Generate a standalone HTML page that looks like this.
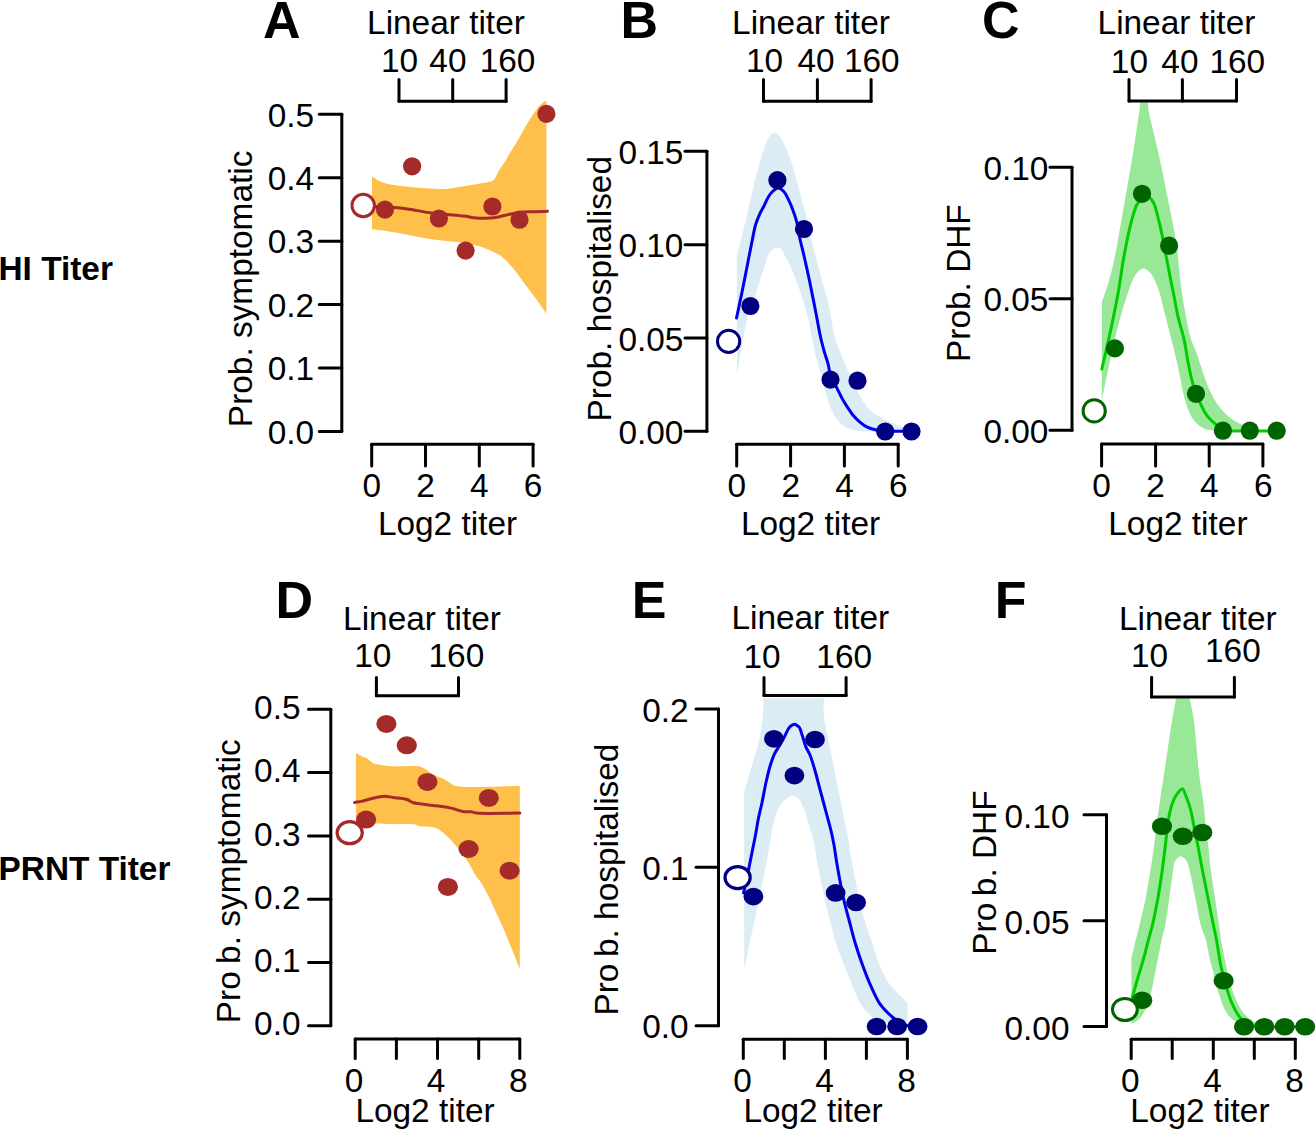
<!DOCTYPE html>
<html><head><meta charset="utf-8"><title>Figure</title>
<style>html,body{margin:0;padding:0;background:#fff;} svg{display:block;} text{font-family:"Liberation Sans",sans-serif;fill:#000;}</style>
</head><body>
<svg width="1316" height="1130" viewBox="0 0 1316 1130">
<rect width="1316" height="1130" fill="#fff"/>
<defs><clipPath id="clipC"><rect x="1080" y="102.5" width="236" height="400"/></clipPath><clipPath id="clipE"><rect x="720" y="698.5" width="220" height="400"/></clipPath><clipPath id="clipF"><rect x="1110" y="698.2" width="206" height="400"/></clipPath></defs>
<text x="-1.5" y="280" text-anchor="start" font-size="33.4" font-weight="bold" >HI Titer</text>
<text x="-1.5" y="879.5" text-anchor="start" font-size="33.4" font-weight="bold" >PRNT Titer</text>
<text x="263" y="37.8" text-anchor="start" font-size="52" font-weight="bold" >A</text>
<text x="620.5" y="37.8" text-anchor="start" font-size="52" font-weight="bold" >B</text>
<text x="982" y="37.8" text-anchor="start" font-size="52" font-weight="bold" >C</text>
<text x="275.5" y="618.3" text-anchor="start" font-size="52" font-weight="bold" >D</text>
<text x="631.8" y="618.3" text-anchor="start" font-size="52" font-weight="bold" >E</text>
<text x="994.8" y="618.3" text-anchor="start" font-size="52" font-weight="bold" >F</text>
<path d="M372.00,176.40 C374.83,178.10 377.45,180.16 380.50,181.50 C383.66,182.89 386.68,183.67 390.70,184.50 C396.27,185.66 404.22,186.32 411.00,187.00 C417.78,187.68 425.21,188.27 431.40,188.60 C436.56,188.87 440.72,189.29 445.60,189.00 C450.86,188.69 456.31,187.48 461.90,186.60 C467.83,185.66 474.99,184.45 480.20,183.50 C484.10,182.79 487.95,182.30 490.40,181.50 C491.88,181.02 492.69,180.93 493.80,179.90 C495.73,178.11 497.46,173.14 499.40,170.00 C501.24,167.02 503.25,164.48 505.10,161.50 C507.06,158.34 508.77,154.91 510.80,151.50 C512.98,147.85 515.51,144.19 517.80,140.30 C520.21,136.21 522.48,131.60 524.90,127.50 C527.21,123.58 529.59,119.81 532.00,116.20 C534.30,112.76 536.62,108.91 539.00,106.30 C540.87,104.24 543.29,102.12 544.70,101.40 C545.38,101.05 545.83,101.13 546.40,101.00 L546.40,313.80 C543.33,309.37 540.53,305.12 537.20,300.50 C533.47,295.33 529.06,289.71 525.00,284.30 C520.93,278.88 517.05,272.90 512.80,268.00 C508.89,263.49 504.94,258.92 500.60,255.80 C496.75,253.02 492.53,251.42 488.40,249.70 C484.39,248.03 480.46,246.77 476.20,245.60 C471.66,244.35 467.11,243.32 461.90,242.50 C455.75,241.53 448.36,241.35 441.60,240.50 C434.80,239.65 427.98,238.58 421.20,237.40 C414.41,236.22 407.69,234.58 400.90,233.40 C394.12,232.22 385.84,231.02 380.50,230.30 C377.06,229.84 374.83,229.63 372.00,229.30 Z" fill="#FEC04A"/>
<path d="M372.00,205.90 C374.83,206.23 377.29,206.64 380.50,206.90 C384.64,207.23 389.89,207.11 394.80,207.50 C400.04,207.92 405.30,208.56 411.00,209.40 C417.42,210.34 424.96,212.14 431.40,213.00 C437.12,213.77 442.27,213.98 447.70,214.50 C453.13,215.02 458.97,215.44 464.00,216.10 C468.37,216.67 472.03,217.76 476.20,218.10 C480.52,218.45 485.40,218.39 489.50,218.10 C493.05,217.85 496.24,217.31 499.40,216.70 C502.36,216.13 504.86,215.27 507.90,214.60 C511.39,213.83 515.30,212.88 519.20,212.40 C523.32,211.89 527.53,211.88 532.00,211.70 C536.92,211.50 542.33,211.43 547.50,211.30" fill="none" stroke="#A52A2A" stroke-width="3" stroke-linecap="round" stroke-linejoin="round"/>
<circle cx="385" cy="209.6" r="9.1" fill="#A52A2A"/>
<circle cx="412.1" cy="166.3" r="9.1" fill="#A52A2A"/>
<circle cx="438.9" cy="218.5" r="9.1" fill="#A52A2A"/>
<circle cx="465.6" cy="250.6" r="9.1" fill="#A52A2A"/>
<circle cx="492.4" cy="206.5" r="9.1" fill="#A52A2A"/>
<circle cx="519.5" cy="219.7" r="9.1" fill="#A52A2A"/>
<circle cx="546.4" cy="113.9" r="9.1" fill="#A52A2A"/>
<ellipse cx="363.2" cy="205.5" rx="11.2" ry="11.2" fill="#fff" stroke="#A52A2A" stroke-width="3"/>
<line x1="341.8" y1="114.3" x2="341.8" y2="431.5" stroke="#000" stroke-width="3" stroke-linecap="round"/>
<line x1="319.3" y1="431.5" x2="341.8" y2="431.5" stroke="#000" stroke-width="3" stroke-linecap="round"/>
<line x1="319.3" y1="368.06" x2="341.8" y2="368.06" stroke="#000" stroke-width="3" stroke-linecap="round"/>
<line x1="319.3" y1="304.62" x2="341.8" y2="304.62" stroke="#000" stroke-width="3" stroke-linecap="round"/>
<line x1="319.3" y1="241.18" x2="341.8" y2="241.18" stroke="#000" stroke-width="3" stroke-linecap="round"/>
<line x1="319.3" y1="177.74" x2="341.8" y2="177.74" stroke="#000" stroke-width="3" stroke-linecap="round"/>
<line x1="319.3" y1="114.3" x2="341.8" y2="114.3" stroke="#000" stroke-width="3" stroke-linecap="round"/>
<text x="314.2" y="443.7568" text-anchor="end" font-size="33.4" font-weight="normal" >0.0</text>
<text x="314.2" y="380.3568" text-anchor="end" font-size="33.4" font-weight="normal" >0.1</text>
<text x="314.2" y="316.8568" text-anchor="end" font-size="33.4" font-weight="normal" >0.2</text>
<text x="314.2" y="253.4568" text-anchor="end" font-size="33.4" font-weight="normal" >0.3</text>
<text x="314.2" y="189.9568" text-anchor="end" font-size="33.4" font-weight="normal" >0.4</text>
<text x="314.2" y="126.5568" text-anchor="end" font-size="33.4" font-weight="normal" >0.5</text>
<line x1="371.7" y1="444.3" x2="533.1" y2="444.3" stroke="#000" stroke-width="3" stroke-linecap="round"/>
<line x1="371.7" y1="444.3" x2="371.7" y2="466" stroke="#000" stroke-width="3" stroke-linecap="round"/>
<line x1="425.5" y1="444.3" x2="425.5" y2="466" stroke="#000" stroke-width="3" stroke-linecap="round"/>
<line x1="479.3" y1="444.3" x2="479.3" y2="466" stroke="#000" stroke-width="3" stroke-linecap="round"/>
<line x1="533.1" y1="444.3" x2="533.1" y2="466" stroke="#000" stroke-width="3" stroke-linecap="round"/>
<text x="371.7" y="496.5" text-anchor="middle" font-size="33.4" font-weight="normal" >0</text>
<text x="425.5" y="496.5" text-anchor="middle" font-size="33.4" font-weight="normal" >2</text>
<text x="479.3" y="496.5" text-anchor="middle" font-size="33.4" font-weight="normal" >4</text>
<text x="533.1" y="496.5" text-anchor="middle" font-size="33.4" font-weight="normal" >6</text>
<text x="447.5" y="535" text-anchor="middle" font-size="33.4" font-weight="normal" >Log2 titer</text>
<line x1="399" y1="101.2" x2="506.1" y2="101.2" stroke="#000" stroke-width="3" stroke-linecap="round"/>
<line x1="399" y1="101.2" x2="399" y2="79.5" stroke="#000" stroke-width="3" stroke-linecap="round"/>
<line x1="452.7" y1="101.2" x2="452.7" y2="79.5" stroke="#000" stroke-width="3" stroke-linecap="round"/>
<line x1="506.1" y1="101.2" x2="506.1" y2="79.5" stroke="#000" stroke-width="3" stroke-linecap="round"/>
<text x="399.5" y="72.2" text-anchor="middle" font-size="33.4" font-weight="normal" >10</text>
<text x="447.9" y="72.2" text-anchor="middle" font-size="33.4" font-weight="normal" >40</text>
<text x="507.5" y="72.2" text-anchor="middle" font-size="33.4" font-weight="normal" >160</text>
<text x="445.95" y="34" text-anchor="middle" font-size="33.4" font-weight="normal" >Linear titer</text>
<text transform="translate(251.7,288.9) rotate(-90)" text-anchor="middle" font-size="33.4" >Prob. symptomatic</text>
<path d="M736.90,255.20 C738.37,249.53 739.75,244.27 741.30,238.20 C743.09,231.20 745.17,223.38 747.00,215.60 C748.94,207.37 750.66,198.33 752.60,190.10 C754.43,182.32 756.30,174.62 758.30,167.50 C760.12,161.03 761.94,154.63 764.00,149.10 C765.75,144.39 767.34,139.06 769.60,136.30 C771.09,134.48 772.94,132.79 774.60,132.80 C776.24,132.81 777.97,134.62 779.50,136.30 C781.60,138.62 783.53,142.85 785.20,146.20 C786.82,149.45 787.99,152.25 789.40,156.10 C791.28,161.25 793.26,168.12 795.10,174.50 C797.07,181.32 798.91,188.71 800.80,195.80 C802.68,202.87 804.69,209.77 806.40,217.00 C808.17,224.49 809.41,232.51 811.20,240.00 C812.93,247.24 815.02,254.12 816.90,261.20 C818.78,268.29 820.58,275.54 822.50,282.50 C824.35,289.23 826.36,294.60 828.20,302.30 C830.71,312.81 832.69,330.73 835.40,340.00 C837.05,345.66 838.93,348.88 840.70,353.30 C842.46,357.71 844.10,362.12 846.00,366.50 C847.93,370.95 850.22,375.53 852.20,379.80 C854.04,383.77 855.57,387.58 857.50,391.30 C859.41,394.98 861.42,398.69 863.70,402.00 C865.88,405.17 868.07,408.29 870.80,410.80 C873.51,413.28 876.28,414.91 880.00,417.00 C885.10,419.86 893.26,423.52 899.00,425.70 C903.54,427.42 907.33,428.23 911.50,429.50 L911.50,431.50 C895.00,431.40 872.45,432.10 862.00,431.20 C857.11,430.78 854.62,430.48 851.30,429.40 C848.14,428.37 845.11,427.00 842.50,425.00 C839.78,422.91 837.43,420.00 835.40,417.00 C833.26,413.84 831.67,410.19 830.10,406.40 C828.40,402.27 827.04,397.55 825.70,393.10 C824.37,388.68 823.28,384.24 822.10,379.80 C820.92,375.37 819.78,370.92 818.60,366.50 C817.42,362.09 816.04,357.73 815.00,353.30 C813.97,348.89 813.36,344.93 812.40,340.00 C811.21,333.84 810.03,326.01 808.40,319.20 C806.79,312.48 804.71,305.81 802.70,299.40 C800.77,293.26 798.28,286.01 796.60,281.50 C795.56,278.71 794.79,277.03 793.90,274.80 C793.02,272.59 792.24,270.39 791.30,268.20 C790.34,265.96 789.29,263.58 788.20,261.50 C787.21,259.60 786.16,258.07 785.10,256.20 C783.93,254.13 783.10,251.04 781.50,249.60 C780.17,248.41 778.40,247.41 776.70,247.60 C774.50,247.85 771.49,250.22 769.60,252.70 C767.19,255.86 766.31,261.35 764.70,266.00 C762.94,271.07 761.11,276.84 759.50,282.00 C758.00,286.81 756.99,291.32 755.30,296.00 C753.52,300.91 750.71,305.42 749.00,310.80 C747.08,316.84 746.08,323.77 744.70,330.60 C743.23,337.87 741.80,345.66 740.50,353.20 C739.20,360.72 738.10,368.27 736.90,375.80 Z" fill="#DBECF4"/>
<path d="M736.50,318.00 C737.83,311.80 739.26,305.34 740.50,299.40 C741.64,293.95 742.57,289.38 743.70,283.70 C745.04,276.99 746.55,269.09 748.00,261.70 C749.48,254.19 751.13,245.65 752.50,239.00 C753.58,233.77 754.21,229.33 755.50,225.00 C756.66,221.09 758.18,217.42 759.70,214.10 C761.04,211.16 762.60,208.77 764.00,206.00 C765.44,203.14 766.65,199.75 768.20,197.20 C769.52,195.02 770.81,193.05 772.50,191.50 C774.13,190.01 776.22,188.01 778.10,188.00 C779.99,187.99 782.20,189.88 783.80,191.50 C785.57,193.30 786.67,195.99 788.00,198.60 C789.52,201.58 790.95,204.96 792.30,208.50 C793.80,212.44 795.28,216.57 796.50,221.20 C797.92,226.59 798.70,232.98 800.00,239.00 C801.35,245.24 802.99,251.37 804.50,258.00 C806.15,265.25 807.80,272.67 809.50,280.80 C811.45,290.11 813.54,300.87 815.50,310.80 C817.44,320.60 819.38,332.18 821.20,340.00 C822.44,345.32 823.57,349.04 824.80,353.30 C825.94,357.28 827.34,361.02 828.30,364.80 C829.22,368.38 829.23,371.75 830.50,375.40 C831.99,379.68 835.20,384.72 837.20,388.70 C838.82,391.93 840.01,394.59 841.60,397.50 C843.23,400.49 845.00,403.48 846.90,406.40 C848.83,409.38 850.84,412.51 853.10,415.20 C855.28,417.80 857.74,420.25 860.20,422.30 C862.48,424.20 864.77,425.95 867.30,427.20 C869.78,428.43 872.39,429.17 875.20,429.80 C878.26,430.48 880.93,430.72 885.00,431.00 C891.67,431.46 902.67,431.27 911.50,431.40" fill="none" stroke="#0000EE" stroke-width="3" stroke-linecap="round" stroke-linejoin="round"/>
<circle cx="750.4" cy="306" r="9.1" fill="#000080"/>
<circle cx="777.4" cy="180.2" r="9.1" fill="#000080"/>
<circle cx="804" cy="229" r="9.1" fill="#000080"/>
<circle cx="830.5" cy="379.6" r="9.1" fill="#000080"/>
<circle cx="857.5" cy="380.7" r="9.1" fill="#000080"/>
<circle cx="885.2" cy="431.5" r="9.1" fill="#000080"/>
<circle cx="911.5" cy="431.5" r="9.1" fill="#000080"/>
<ellipse cx="728.6" cy="341.4" rx="11.1" ry="11.1" fill="#fff" stroke="#000080" stroke-width="3"/>
<line x1="706.9" y1="151.3" x2="706.9" y2="431.3" stroke="#000" stroke-width="3" stroke-linecap="round"/>
<line x1="685" y1="431.3" x2="706.9" y2="431.3" stroke="#000" stroke-width="3" stroke-linecap="round"/>
<line x1="685" y1="337.97" x2="706.9" y2="337.97" stroke="#000" stroke-width="3" stroke-linecap="round"/>
<line x1="685" y1="244.63" x2="706.9" y2="244.63" stroke="#000" stroke-width="3" stroke-linecap="round"/>
<line x1="685" y1="151.3" x2="706.9" y2="151.3" stroke="#000" stroke-width="3" stroke-linecap="round"/>
<text x="683.4" y="443.8568" text-anchor="end" font-size="33.4" font-weight="normal" >0.00</text>
<text x="683.4" y="350.5568" text-anchor="end" font-size="33.4" font-weight="normal" >0.05</text>
<text x="683.4" y="257.1568" text-anchor="end" font-size="33.4" font-weight="normal" >0.10</text>
<text x="683.4" y="163.8568" text-anchor="end" font-size="33.4" font-weight="normal" >0.15</text>
<line x1="736.7" y1="444.2" x2="898.2" y2="444.2" stroke="#000" stroke-width="3" stroke-linecap="round"/>
<line x1="736.7" y1="444.2" x2="736.7" y2="466" stroke="#000" stroke-width="3" stroke-linecap="round"/>
<line x1="790.6" y1="444.2" x2="790.6" y2="466" stroke="#000" stroke-width="3" stroke-linecap="round"/>
<line x1="844.4" y1="444.2" x2="844.4" y2="466" stroke="#000" stroke-width="3" stroke-linecap="round"/>
<line x1="898.2" y1="444.2" x2="898.2" y2="466" stroke="#000" stroke-width="3" stroke-linecap="round"/>
<text x="736.8" y="496.5" text-anchor="middle" font-size="33.4" font-weight="normal" >0</text>
<text x="790.7" y="496.5" text-anchor="middle" font-size="33.4" font-weight="normal" >2</text>
<text x="844.6" y="496.5" text-anchor="middle" font-size="33.4" font-weight="normal" >4</text>
<text x="898.4" y="496.5" text-anchor="middle" font-size="33.4" font-weight="normal" >6</text>
<text x="810.5" y="535" text-anchor="middle" font-size="33.4" font-weight="normal" >Log2 titer</text>
<line x1="763.5" y1="101.2" x2="871.1" y2="101.2" stroke="#000" stroke-width="3" stroke-linecap="round"/>
<line x1="763.5" y1="101.2" x2="763.5" y2="79.5" stroke="#000" stroke-width="3" stroke-linecap="round"/>
<line x1="817.4" y1="101.2" x2="817.4" y2="79.5" stroke="#000" stroke-width="3" stroke-linecap="round"/>
<line x1="871.1" y1="101.2" x2="871.1" y2="79.5" stroke="#000" stroke-width="3" stroke-linecap="round"/>
<text x="764.5" y="72.2" text-anchor="middle" font-size="33.4" font-weight="normal" >10</text>
<text x="816" y="72.2" text-anchor="middle" font-size="33.4" font-weight="normal" >40</text>
<text x="871.8" y="72.2" text-anchor="middle" font-size="33.4" font-weight="normal" >160</text>
<text x="810.95" y="34" text-anchor="middle" font-size="33.4" font-weight="normal" >Linear titer</text>
<text transform="translate(610.6,288.7) rotate(-90)" text-anchor="middle" font-size="33.4" >Prob. hospitalised</text>
<g clip-path="url(#clipC)">
<path d="M1101.80,302.60 C1103.83,296.50 1105.96,290.87 1107.90,284.30 C1110.12,276.79 1112.50,267.49 1114.20,259.90 C1115.66,253.36 1116.47,248.30 1117.70,241.50 C1119.23,233.08 1120.95,222.63 1122.60,213.20 C1124.25,203.77 1125.95,194.33 1127.60,184.90 C1129.25,175.47 1130.97,166.04 1132.50,156.60 C1134.03,147.17 1135.54,136.71 1136.80,128.30 C1137.81,121.54 1138.64,115.46 1139.50,110.00 C1140.19,105.58 1139.66,99.56 1141.50,98.00 C1142.68,97.00 1145.32,97.00 1146.50,98.00 C1148.34,99.56 1147.75,106.08 1148.50,110.00 C1149.22,113.81 1149.93,116.88 1150.90,121.20 C1152.24,127.17 1154.25,135.41 1155.90,142.50 C1157.55,149.57 1159.26,156.62 1160.80,163.70 C1162.33,170.76 1163.68,177.83 1165.10,184.90 C1166.52,191.97 1167.89,199.03 1169.30,206.10 C1170.72,213.19 1172.30,220.30 1173.60,227.40 C1174.90,234.46 1176.12,241.10 1177.10,248.60 C1178.20,256.99 1178.74,267.00 1179.70,275.40 C1180.56,282.89 1181.44,289.54 1182.50,296.60 C1183.57,303.68 1184.69,310.75 1186.10,317.80 C1187.52,324.91 1189.05,332.82 1191.00,339.10 C1192.61,344.29 1194.91,348.65 1196.50,353.00 C1197.88,356.78 1198.84,359.91 1200.10,363.70 C1201.52,367.98 1202.94,372.87 1204.60,377.40 C1206.27,381.97 1208.07,386.67 1210.10,391.00 C1212.05,395.15 1214.12,399.30 1216.50,402.90 C1218.72,406.25 1221.24,409.33 1223.80,412.00 C1226.13,414.44 1228.59,416.54 1231.10,418.40 C1233.46,420.14 1236.13,421.61 1238.40,422.90 C1240.31,423.98 1241.78,424.84 1243.80,425.70 C1246.22,426.73 1248.91,427.77 1252.00,428.50 C1255.80,429.40 1260.74,429.92 1265.00,430.30 C1269.07,430.67 1273.00,430.63 1277.00,430.80 L1277.00,430.80 C1255.30,430.60 1223.23,431.48 1211.90,430.20 C1207.83,429.74 1206.24,429.55 1203.70,428.40 C1201.06,427.20 1198.53,425.11 1196.40,423.00 C1194.26,420.88 1192.49,418.50 1190.90,415.70 C1189.09,412.51 1187.72,408.61 1186.40,404.70 C1184.95,400.43 1183.78,395.73 1182.70,391.00 C1181.56,386.01 1180.91,380.95 1179.80,375.50 C1178.55,369.36 1176.99,362.26 1175.50,356.00 C1174.11,350.15 1172.62,344.74 1171.20,339.10 C1169.78,333.44 1168.35,327.51 1167.00,322.10 C1165.76,317.15 1164.59,312.63 1163.40,307.90 C1162.22,303.19 1161.26,298.20 1159.90,293.80 C1158.66,289.79 1157.38,286.09 1155.70,282.50 C1154.06,279.00 1152.38,274.91 1150.00,272.50 C1148.00,270.48 1145.30,268.18 1143.00,268.40 C1140.43,268.65 1137.64,271.98 1135.40,275.10 C1132.26,279.47 1130.19,286.45 1127.70,293.40 C1124.55,302.20 1121.48,313.02 1118.60,323.90 C1115.34,336.22 1112.25,350.62 1109.40,363.60 C1106.67,376.03 1104.33,388.00 1101.80,400.20 Z" fill="#98E898"/>
</g>
<path d="M1101.80,369.10 C1104.33,358.10 1106.83,348.01 1109.40,336.10 C1112.42,322.12 1116.16,304.12 1118.60,290.40 C1120.58,279.23 1121.60,269.60 1123.30,259.90 C1124.86,251.00 1126.61,242.02 1128.30,234.40 C1129.69,228.14 1130.97,222.62 1132.50,217.40 C1133.84,212.83 1135.08,208.00 1136.80,204.70 C1138.05,202.30 1139.41,200.40 1141.00,199.00 C1142.36,197.80 1144.01,196.68 1145.50,196.50 C1146.84,196.34 1148.27,196.77 1149.50,197.60 C1151.11,198.69 1152.55,200.84 1153.80,203.30 C1155.59,206.84 1156.66,212.37 1158.00,217.40 C1159.51,223.10 1161.05,229.85 1162.30,235.80 C1163.46,241.36 1164.19,246.11 1165.30,252.00 C1166.64,259.09 1168.30,267.80 1169.80,275.40 C1171.23,282.64 1172.68,289.53 1174.10,296.60 C1175.52,303.67 1176.66,310.75 1178.30,317.80 C1179.96,324.92 1182.40,331.84 1184.00,339.10 C1185.65,346.56 1186.60,354.83 1188.00,362.00 C1189.25,368.40 1190.46,374.51 1191.90,380.10 C1193.16,385.01 1194.49,389.74 1196.00,393.80 C1197.26,397.19 1198.67,399.88 1200.10,402.90 C1201.54,405.95 1202.88,409.21 1204.60,412.00 C1206.23,414.65 1208.07,417.13 1210.10,419.30 C1212.05,421.38 1214.32,423.11 1216.50,424.80 C1218.59,426.43 1220.51,428.32 1222.90,429.30 C1225.36,430.31 1227.24,430.36 1231.10,430.70 C1240.17,431.50 1261.70,430.90 1277.00,431.00" fill="none" stroke="#00CD00" stroke-width="3" stroke-linecap="round" stroke-linejoin="round"/>
<circle cx="1114.9" cy="348.4" r="9.1" fill="#006400"/>
<circle cx="1142" cy="193.8" r="9.1" fill="#006400"/>
<circle cx="1169.1" cy="245.7" r="9.1" fill="#006400"/>
<circle cx="1196" cy="393.8" r="9.1" fill="#006400"/>
<circle cx="1222.9" cy="430.7" r="9.1" fill="#006400"/>
<circle cx="1249.8" cy="430.7" r="9.1" fill="#006400"/>
<circle cx="1276.7" cy="430.7" r="9.1" fill="#006400"/>
<ellipse cx="1094.2" cy="410.9" rx="11.1" ry="11.1" fill="#fff" stroke="#006400" stroke-width="3"/>
<line x1="1072" y1="167.2" x2="1072" y2="430.2" stroke="#000" stroke-width="3" stroke-linecap="round"/>
<line x1="1050" y1="430.2" x2="1072" y2="430.2" stroke="#000" stroke-width="3" stroke-linecap="round"/>
<line x1="1050" y1="298.7" x2="1072" y2="298.7" stroke="#000" stroke-width="3" stroke-linecap="round"/>
<line x1="1050" y1="167.2" x2="1072" y2="167.2" stroke="#000" stroke-width="3" stroke-linecap="round"/>
<text x="1048.4" y="442.9568" text-anchor="end" font-size="33.4" font-weight="normal" >0.00</text>
<text x="1048.4" y="311.4568" text-anchor="end" font-size="33.4" font-weight="normal" >0.05</text>
<text x="1048.4" y="179.9568" text-anchor="end" font-size="33.4" font-weight="normal" >0.10</text>
<line x1="1101.6" y1="444.1" x2="1262.9" y2="444.1" stroke="#000" stroke-width="3" stroke-linecap="round"/>
<line x1="1101.6" y1="444.1" x2="1101.6" y2="466" stroke="#000" stroke-width="3" stroke-linecap="round"/>
<line x1="1155.6" y1="444.1" x2="1155.6" y2="466" stroke="#000" stroke-width="3" stroke-linecap="round"/>
<line x1="1209.2" y1="444.1" x2="1209.2" y2="466" stroke="#000" stroke-width="3" stroke-linecap="round"/>
<line x1="1262.9" y1="444.1" x2="1262.9" y2="466" stroke="#000" stroke-width="3" stroke-linecap="round"/>
<text x="1101.6" y="496.5" text-anchor="middle" font-size="33.4" font-weight="normal" >0</text>
<text x="1155.5" y="496.5" text-anchor="middle" font-size="33.4" font-weight="normal" >2</text>
<text x="1209.4" y="496.5" text-anchor="middle" font-size="33.4" font-weight="normal" >4</text>
<text x="1263.2" y="496.5" text-anchor="middle" font-size="33.4" font-weight="normal" >6</text>
<text x="1177.9" y="535" text-anchor="middle" font-size="33.4" font-weight="normal" >Log2 titer</text>
<line x1="1129" y1="101.1" x2="1236.5" y2="101.1" stroke="#000" stroke-width="3" stroke-linecap="round"/>
<line x1="1129" y1="101.1" x2="1129" y2="79.5" stroke="#000" stroke-width="3" stroke-linecap="round"/>
<line x1="1182.4" y1="101.1" x2="1182.4" y2="79.5" stroke="#000" stroke-width="3" stroke-linecap="round"/>
<line x1="1236.5" y1="101.1" x2="1236.5" y2="79.5" stroke="#000" stroke-width="3" stroke-linecap="round"/>
<text x="1129.4" y="72.5" text-anchor="middle" font-size="33.4" font-weight="normal" >10</text>
<text x="1179.9" y="72.5" text-anchor="middle" font-size="33.4" font-weight="normal" >40</text>
<text x="1237.3" y="72.5" text-anchor="middle" font-size="33.4" font-weight="normal" >160</text>
<text x="1176.45" y="34.4" text-anchor="middle" font-size="33.4" font-weight="normal" >Linear titer</text>
<text transform="translate(969.7,283.1) rotate(-90)" text-anchor="middle" font-size="33.4" >Prob. DHF</text>
<path d="M355.90,752.80 C357.97,754.00 360.18,755.48 362.10,756.40 C363.66,757.15 364.93,757.22 366.50,758.10 C368.66,759.31 371.19,762.40 373.60,763.50 C375.63,764.43 377.54,764.40 379.80,764.80 C382.49,765.28 385.73,765.82 388.70,766.10 C391.63,766.38 394.26,766.48 397.50,766.50 C401.48,766.53 406.82,766.07 410.80,766.10 C414.04,766.12 417.19,765.98 419.60,766.50 C421.39,766.89 422.65,767.51 424.10,768.30 C425.63,769.13 427.03,770.37 428.50,771.40 C429.97,772.43 431.20,773.54 432.90,774.50 C434.94,775.65 437.77,776.65 440.00,777.60 C441.97,778.44 443.77,778.93 445.60,779.90 C447.54,780.93 449.46,782.62 451.30,783.70 C452.91,784.65 453.42,785.48 456.00,786.10 C464.98,788.26 498.53,786.10 519.80,786.10 L519.80,969.00 C518.43,965.60 517.18,962.48 515.70,958.80 C513.96,954.46 512.02,949.54 510.00,944.60 C507.78,939.18 505.31,933.12 502.90,927.60 C500.58,922.29 498.16,917.28 495.80,912.10 C493.43,906.91 491.15,901.40 488.70,896.50 C486.44,891.98 484.17,887.62 481.70,883.70 C479.45,880.11 476.87,877.37 474.60,873.80 C472.12,869.89 469.98,865.01 467.50,861.10 C465.23,857.53 462.83,854.33 460.40,851.20 C458.09,848.21 455.84,845.48 453.30,842.70 C450.65,839.81 447.73,836.71 444.80,834.20 C442.05,831.85 439.22,829.23 436.30,828.00 C433.77,826.94 431.19,826.98 428.50,826.70 C425.64,826.40 422.01,826.83 419.60,826.30 C417.84,825.91 417.28,824.93 415.20,824.50 C410.71,823.57 400.06,824.26 393.10,824.10 C386.87,823.96 381.44,823.69 375.40,823.60 C369.06,823.51 362.40,823.60 355.90,823.60 Z" fill="#FEC04A"/>
<path d="M354.60,802.40 C357.10,801.97 359.50,801.66 362.10,801.10 C364.95,800.49 367.73,799.54 371.00,798.80 C374.96,797.90 380.22,796.30 384.20,796.20 C387.45,796.12 389.84,797.04 393.10,797.50 C397.09,798.06 402.73,798.18 406.40,799.30 C409.22,800.16 411.17,802.07 413.50,802.80 C415.56,803.44 417.17,803.36 419.60,803.70 C423.18,804.21 429.15,805.04 432.90,805.50 C435.63,805.84 437.32,805.92 440.00,806.30 C443.53,806.80 448.31,807.49 452.20,808.40 C455.86,809.25 459.35,810.96 462.70,811.50 C465.65,811.98 468.66,811.47 471.20,811.80 C473.30,812.07 474.09,812.78 476.90,813.10 C484.51,813.96 505.50,813.10 519.80,813.10" fill="none" stroke="#A52A2A" stroke-width="3" stroke-linecap="round" stroke-linejoin="round"/>
<ellipse cx="366.1" cy="819.6" rx="10.1" ry="9.0" fill="#A52A2A"/>
<ellipse cx="386.4" cy="723.9" rx="10.1" ry="9.0" fill="#A52A2A"/>
<ellipse cx="406.8" cy="745.3" rx="10.1" ry="9.0" fill="#A52A2A"/>
<ellipse cx="427.4" cy="781.9" rx="10.1" ry="9.0" fill="#A52A2A"/>
<ellipse cx="447.9" cy="886.9" rx="10.1" ry="9.0" fill="#A52A2A"/>
<ellipse cx="468.6" cy="849" rx="10.1" ry="9.0" fill="#A52A2A"/>
<ellipse cx="488.8" cy="797.9" rx="10.1" ry="9.0" fill="#A52A2A"/>
<ellipse cx="509.6" cy="870.7" rx="10.1" ry="9.0" fill="#A52A2A"/>
<ellipse cx="349.7" cy="832.7" rx="12.6" ry="11.0" fill="#fff" stroke="#A52A2A" stroke-width="3.2"/>
<line x1="330.8" y1="709.3" x2="330.8" y2="1025.8" stroke="#000" stroke-width="3" stroke-linecap="round"/>
<line x1="308.5" y1="1025.8" x2="330.8" y2="1025.8" stroke="#000" stroke-width="3" stroke-linecap="round"/>
<line x1="308.5" y1="962.5" x2="330.8" y2="962.5" stroke="#000" stroke-width="3" stroke-linecap="round"/>
<line x1="308.5" y1="899.2" x2="330.8" y2="899.2" stroke="#000" stroke-width="3" stroke-linecap="round"/>
<line x1="308.5" y1="835.9" x2="330.8" y2="835.9" stroke="#000" stroke-width="3" stroke-linecap="round"/>
<line x1="308.5" y1="772.6" x2="330.8" y2="772.6" stroke="#000" stroke-width="3" stroke-linecap="round"/>
<line x1="308.5" y1="709.3" x2="330.8" y2="709.3" stroke="#000" stroke-width="3" stroke-linecap="round"/>
<text x="300.5" y="1035.4568" text-anchor="end" font-size="33.4" font-weight="normal" >0.0</text>
<text x="300.5" y="972.1568" text-anchor="end" font-size="33.4" font-weight="normal" >0.1</text>
<text x="300.5" y="908.8568" text-anchor="end" font-size="33.4" font-weight="normal" >0.2</text>
<text x="300.5" y="845.5568" text-anchor="end" font-size="33.4" font-weight="normal" >0.3</text>
<text x="300.5" y="782.2568" text-anchor="end" font-size="33.4" font-weight="normal" >0.4</text>
<text x="300.5" y="718.9568" text-anchor="end" font-size="33.4" font-weight="normal" >0.5</text>
<line x1="355.2" y1="1039" x2="519.8" y2="1039" stroke="#000" stroke-width="3" stroke-linecap="round"/>
<line x1="355.2" y1="1039" x2="355.2" y2="1058.5" stroke="#000" stroke-width="3" stroke-linecap="round"/>
<line x1="396.4" y1="1039" x2="396.4" y2="1058.5" stroke="#000" stroke-width="3" stroke-linecap="round"/>
<line x1="437.5" y1="1039" x2="437.5" y2="1058.5" stroke="#000" stroke-width="3" stroke-linecap="round"/>
<line x1="478.7" y1="1039" x2="478.7" y2="1058.5" stroke="#000" stroke-width="3" stroke-linecap="round"/>
<line x1="519.8" y1="1039" x2="519.8" y2="1058.5" stroke="#000" stroke-width="3" stroke-linecap="round"/>
<text x="354.1" y="1091.5" text-anchor="middle" font-size="33.4" font-weight="normal" >0</text>
<text x="436" y="1091.5" text-anchor="middle" font-size="33.4" font-weight="normal" >4</text>
<text x="518.4" y="1091.5" text-anchor="middle" font-size="33.4" font-weight="normal" >8</text>
<text x="425" y="1121.7" text-anchor="middle" font-size="33.4" font-weight="normal" >Log2 titer</text>
<line x1="376.4" y1="695.8" x2="458.5" y2="695.8" stroke="#000" stroke-width="3" stroke-linecap="round"/>
<line x1="376.4" y1="695.8" x2="376.4" y2="677.6" stroke="#000" stroke-width="3" stroke-linecap="round"/>
<line x1="458.5" y1="695.8" x2="458.5" y2="677.6" stroke="#000" stroke-width="3" stroke-linecap="round"/>
<text x="372.7" y="666.5" text-anchor="middle" font-size="33.4" font-weight="normal" >10</text>
<text x="456.4" y="666.5" text-anchor="middle" font-size="33.4" font-weight="normal" >160</text>
<text x="422" y="629.6" text-anchor="middle" font-size="33.4" font-weight="normal" >Linear titer</text>
<text transform="translate(239.6,881.3) rotate(-90)" text-anchor="middle" font-size="33.4" >Pro<tspan dx="7.4">b. symptomatic</tspan></text>
<g clip-path="url(#clipE)">
<path d="M744.20,791.90 C745.87,786.23 747.60,780.30 749.20,774.90 C750.66,769.98 752.00,765.51 753.40,760.80 C754.80,756.08 756.41,751.35 757.60,746.60 C758.77,741.92 759.67,737.22 760.50,732.50 C761.33,727.79 762.10,722.97 762.60,718.30 C763.08,713.80 763.26,709.12 763.50,705.00 C763.71,701.43 761.52,697.36 764.00,695.00 C770.02,689.27 816.98,689.27 823.00,695.00 C825.48,697.36 823.33,701.43 823.50,705.00 C823.70,709.12 823.54,713.82 824.10,718.30 C824.68,722.98 825.95,727.29 827.00,732.50 C828.28,738.86 829.78,746.63 831.20,753.70 C832.62,760.77 834.08,767.83 835.50,774.90 C836.92,781.97 838.29,789.03 839.70,796.10 C841.12,803.19 842.58,810.31 844.00,817.40 C845.41,824.47 846.95,831.50 848.20,838.60 C849.45,845.70 850.28,853.00 851.50,860.00 C852.69,866.79 854.07,873.24 855.40,880.00 C856.77,886.96 857.96,894.15 859.60,901.20 C861.26,908.32 863.18,915.44 865.30,922.50 C867.44,929.61 870.05,936.63 872.40,943.70 C874.75,950.76 876.68,958.31 879.40,964.90 C881.91,970.98 884.60,976.99 887.90,981.90 C890.83,986.27 894.57,989.75 897.80,993.20 C900.69,996.29 904.76,1000.10 906.30,1001.70 C906.89,1002.31 907.10,1002.57 907.50,1003.00 L907.50,1024.50 C901.67,1024.00 895.07,1023.90 890.00,1023.00 C885.99,1022.29 882.68,1021.36 879.40,1020.10 C876.35,1018.92 873.64,1017.93 870.90,1015.80 C867.46,1013.13 863.90,1008.97 861.00,1004.50 C857.63,999.31 855.21,992.41 852.50,986.10 C849.70,979.58 847.11,972.69 844.50,966.00 C841.91,959.36 839.10,952.90 836.90,946.10 C834.66,939.20 833.08,931.97 831.20,924.90 C829.32,917.84 827.25,910.79 825.60,903.70 C823.96,896.66 822.72,889.58 821.30,882.50 C819.88,875.41 818.40,868.30 817.10,861.20 C815.80,854.13 815.06,846.48 813.50,840.00 C812.14,834.35 810.17,829.47 808.60,824.40 C807.11,819.58 806.04,814.67 804.30,810.30 C802.69,806.25 801.22,801.35 798.70,799.00 C796.73,797.17 794.01,795.85 791.60,796.10 C788.82,796.38 785.45,799.43 783.10,801.80 C780.75,804.16 779.06,806.98 777.50,810.30 C775.62,814.30 774.37,819.55 773.20,824.40 C771.99,829.43 771.38,834.40 770.40,840.00 C769.26,846.52 768.10,854.13 766.80,861.20 C765.50,868.30 764.02,875.41 762.60,882.50 C761.18,889.58 759.83,896.64 758.30,903.70 C756.76,910.78 754.92,917.82 753.40,924.90 C751.89,931.95 750.70,938.90 749.20,946.10 C747.64,953.59 745.87,961.37 744.20,969.00 Z" fill="#DBECF4"/>
</g>
<path d="M743.60,893.00 C744.57,888.67 745.55,884.49 746.50,880.00 C747.52,875.18 748.50,870.00 749.50,865.00 C750.50,860.00 751.50,855.00 752.50,850.00 C753.50,845.00 754.53,840.16 755.50,835.00 C756.53,829.52 757.39,823.46 758.50,818.00 C759.54,812.88 760.75,808.58 761.90,803.20 C763.27,796.78 764.60,788.66 766.10,782.00 C767.45,776.00 768.83,770.05 770.40,765.00 C771.70,760.81 773.02,756.97 774.60,753.70 C775.91,750.99 777.43,749.08 778.90,746.60 C780.49,743.90 782.20,741.06 783.80,738.10 C785.50,734.95 787.22,730.39 788.80,728.20 C789.73,726.92 790.52,726.18 791.50,725.50 C792.40,724.88 793.46,724.18 794.40,724.20 C795.29,724.22 796.18,724.96 797.00,725.50 C797.85,726.06 798.69,726.48 799.40,727.50 C800.56,729.16 801.23,732.45 802.20,735.30 C803.35,738.71 804.40,743.16 805.80,746.60 C807.04,749.66 808.71,751.85 810.00,755.00 C811.55,758.77 812.76,762.97 814.20,767.80 C816.04,773.98 818.00,782.01 819.90,789.10 C821.80,796.18 823.72,803.23 825.60,810.30 C827.48,817.36 829.72,825.21 831.20,831.50 C832.38,836.49 833.15,840.28 834.00,845.00 C834.93,850.14 835.58,855.60 836.50,861.20 C837.50,867.24 838.58,873.55 839.80,880.00 C841.10,886.86 842.46,894.15 844.10,901.20 C845.76,908.32 847.82,915.41 849.70,922.50 C851.58,929.58 853.28,936.67 855.40,943.70 C857.54,950.80 859.93,957.87 862.50,964.90 C865.09,972.00 867.94,979.48 870.90,986.10 C873.60,992.14 876.25,998.35 879.40,1003.10 C882.01,1007.03 885.26,1010.33 887.90,1013.00 C889.91,1015.03 891.62,1016.36 893.60,1018.00 C895.65,1019.70 897.68,1021.71 900.00,1023.00 C902.29,1024.27 904.69,1025.15 907.40,1025.70 C910.49,1026.32 914.20,1026.03 917.60,1026.20" fill="none" stroke="#0000EE" stroke-width="3" stroke-linecap="round" stroke-linejoin="round"/>
<ellipse cx="753.4" cy="896.6" rx="9.9" ry="8.85" fill="#000080"/>
<ellipse cx="773.9" cy="738.8" rx="9.9" ry="8.85" fill="#000080"/>
<ellipse cx="794.4" cy="775.6" rx="9.9" ry="8.85" fill="#000080"/>
<ellipse cx="815" cy="739.5" rx="9.9" ry="8.85" fill="#000080"/>
<ellipse cx="835.6" cy="892.9" rx="9.9" ry="8.85" fill="#000080"/>
<ellipse cx="856.1" cy="902.5" rx="9.9" ry="8.85" fill="#000080"/>
<ellipse cx="876.6" cy="1026.5" rx="9.9" ry="8.85" fill="#000080"/>
<ellipse cx="897.1" cy="1026.5" rx="9.9" ry="8.85" fill="#000080"/>
<ellipse cx="917.6" cy="1026.5" rx="9.9" ry="8.85" fill="#000080"/>
<ellipse cx="737.6" cy="877.6" rx="12.6" ry="11.0" fill="#fff" stroke="#000080" stroke-width="3.2"/>
<line x1="718.5" y1="708.9" x2="718.5" y2="1025.7" stroke="#000" stroke-width="3" stroke-linecap="round"/>
<line x1="696" y1="1025.7" x2="718.5" y2="1025.7" stroke="#000" stroke-width="3" stroke-linecap="round"/>
<line x1="696" y1="867.3" x2="718.5" y2="867.3" stroke="#000" stroke-width="3" stroke-linecap="round"/>
<line x1="696" y1="708.9" x2="718.5" y2="708.9" stroke="#000" stroke-width="3" stroke-linecap="round"/>
<text x="688.6" y="1038.4568" text-anchor="end" font-size="33.4" font-weight="normal" >0.0</text>
<text x="688.6" y="880.0568" text-anchor="end" font-size="33.4" font-weight="normal" >0.1</text>
<text x="688.6" y="721.6568" text-anchor="end" font-size="33.4" font-weight="normal" >0.2</text>
<line x1="743.3" y1="1039.2" x2="907.4" y2="1039.2" stroke="#000" stroke-width="3" stroke-linecap="round"/>
<line x1="743.3" y1="1039.2" x2="743.3" y2="1058.6" stroke="#000" stroke-width="3" stroke-linecap="round"/>
<line x1="784.3" y1="1039.2" x2="784.3" y2="1058.6" stroke="#000" stroke-width="3" stroke-linecap="round"/>
<line x1="825.4" y1="1039.2" x2="825.4" y2="1058.6" stroke="#000" stroke-width="3" stroke-linecap="round"/>
<line x1="866.4" y1="1039.2" x2="866.4" y2="1058.6" stroke="#000" stroke-width="3" stroke-linecap="round"/>
<line x1="907.4" y1="1039.2" x2="907.4" y2="1058.6" stroke="#000" stroke-width="3" stroke-linecap="round"/>
<text x="742.5" y="1091.5" text-anchor="middle" font-size="33.4" font-weight="normal" >0</text>
<text x="824.6" y="1091.5" text-anchor="middle" font-size="33.4" font-weight="normal" >4</text>
<text x="906.6" y="1091.5" text-anchor="middle" font-size="33.4" font-weight="normal" >8</text>
<text x="813" y="1121.7" text-anchor="middle" font-size="33.4" font-weight="normal" >Log2 titer</text>
<line x1="764" y1="695.6" x2="846.1" y2="695.6" stroke="#000" stroke-width="3" stroke-linecap="round"/>
<line x1="764" y1="695.6" x2="764" y2="677.6" stroke="#000" stroke-width="3" stroke-linecap="round"/>
<line x1="846.1" y1="695.6" x2="846.1" y2="677.6" stroke="#000" stroke-width="3" stroke-linecap="round"/>
<text x="762" y="667.5" text-anchor="middle" font-size="33.4" font-weight="normal" >10</text>
<text x="844.2" y="667.5" text-anchor="middle" font-size="33.4" font-weight="normal" >160</text>
<text x="810.3" y="629.4" text-anchor="middle" font-size="33.4" font-weight="normal" >Linear titer</text>
<text transform="translate(617.9,879.6) rotate(-90)" text-anchor="middle" font-size="33.4" >Pro<tspan dx="6.6">b. hospitalised</tspan></text>
<g clip-path="url(#clipF)">
<path d="M1131.40,957.70 C1132.77,952.13 1134.06,946.82 1135.50,941.00 C1137.08,934.63 1138.87,927.83 1140.50,921.00 C1142.21,913.85 1143.97,906.66 1145.50,899.00 C1147.16,890.72 1148.63,881.41 1150.00,873.00 C1151.28,865.11 1152.43,857.76 1153.50,850.00 C1154.60,842.09 1155.47,833.89 1156.50,826.00 C1157.50,818.30 1158.45,811.21 1159.60,803.20 C1160.89,794.27 1162.48,784.33 1163.90,774.90 C1165.32,765.47 1166.68,756.03 1168.10,746.60 C1169.52,737.17 1170.98,726.70 1172.40,718.30 C1173.54,711.53 1174.83,704.85 1175.80,700.00 C1176.44,696.78 1175.75,693.42 1177.50,692.00 C1179.48,690.40 1185.96,690.40 1188.00,692.00 C1189.81,693.41 1189.28,696.78 1190.00,700.00 C1191.08,704.84 1192.60,711.51 1193.60,718.30 C1194.84,726.68 1195.47,737.17 1196.40,746.60 C1197.33,756.03 1198.02,765.48 1199.20,774.90 C1200.38,784.35 1202.32,793.75 1203.50,803.20 C1204.68,812.62 1205.42,824.83 1206.30,831.50 C1206.78,835.17 1207.21,836.33 1207.70,840.00 C1208.59,846.67 1209.42,858.88 1210.60,868.30 C1211.78,877.75 1213.40,887.17 1214.80,896.60 C1216.20,906.03 1217.88,916.93 1219.00,924.90 C1219.82,930.71 1220.20,935.14 1221.00,940.00 C1221.75,944.59 1222.72,948.88 1223.60,953.30 C1224.48,957.71 1225.42,962.09 1226.30,966.50 C1227.18,970.92 1227.73,975.41 1228.90,979.80 C1230.09,984.27 1231.84,988.94 1233.40,993.10 C1234.81,996.86 1236.13,1000.38 1237.80,1003.70 C1239.38,1006.86 1241.17,1010.11 1243.10,1012.60 C1244.75,1014.71 1246.37,1016.30 1248.40,1017.90 C1250.62,1019.64 1253.27,1021.32 1256.00,1022.50 C1258.80,1023.71 1260.87,1024.36 1265.00,1025.00 C1273.61,1026.34 1292.07,1026.00 1305.60,1026.50 L1305.60,1026.50 C1285.40,1026.00 1256.13,1027.29 1245.00,1025.00 C1240.55,1024.09 1238.65,1022.84 1236.00,1021.40 C1233.66,1020.12 1231.63,1018.89 1229.80,1017.00 C1227.74,1014.87 1226.05,1012.00 1224.50,1009.00 C1222.75,1005.60 1221.44,1001.35 1220.10,997.50 C1218.78,993.69 1217.62,990.11 1216.50,986.00 C1215.23,981.35 1214.20,975.84 1213.00,971.00 C1211.86,966.43 1210.61,962.47 1209.50,957.70 C1208.23,952.24 1207.43,945.62 1205.90,940.00 C1204.46,934.72 1202.30,930.78 1200.70,924.90 C1198.55,917.00 1196.75,905.35 1195.00,896.60 C1193.49,889.03 1192.37,881.75 1190.80,875.40 C1189.49,870.10 1188.68,864.29 1186.50,861.00 C1184.97,858.69 1182.69,856.29 1180.80,856.30 C1178.92,856.31 1176.57,858.68 1175.20,861.00 C1173.26,864.29 1173.27,870.12 1172.40,875.40 C1171.35,881.77 1170.58,889.03 1169.50,896.60 C1168.25,905.36 1166.86,916.97 1165.30,924.90 C1164.15,930.75 1162.76,934.75 1161.60,940.00 C1160.35,945.65 1159.27,951.80 1158.10,957.70 C1156.93,963.60 1155.78,969.50 1154.60,975.40 C1153.42,981.30 1152.61,987.25 1151.00,993.10 C1149.36,999.06 1147.24,1006.05 1144.80,1010.80 C1142.95,1014.40 1141.01,1017.34 1138.60,1019.60 C1136.47,1021.60 1133.80,1022.53 1131.40,1024.00 Z" fill="#98E898"/>
</g>
<path d="M1131.30,1001.00 C1133.37,993.67 1135.38,986.27 1137.50,979.00 C1139.59,971.83 1142.02,964.49 1143.90,957.70 C1145.61,951.55 1146.91,945.66 1148.40,940.00 C1149.78,934.76 1151.12,930.74 1152.50,924.90 C1154.37,916.96 1156.53,906.05 1158.20,896.60 C1159.86,887.19 1161.20,877.74 1162.50,868.30 C1163.80,858.88 1164.90,848.90 1166.00,840.00 C1166.98,832.04 1167.55,824.03 1168.80,817.40 C1169.80,812.08 1170.90,807.26 1172.40,803.20 C1173.61,799.93 1174.86,797.13 1176.60,794.70 C1178.21,792.46 1180.69,788.74 1182.30,789.00 C1184.04,789.29 1185.19,794.33 1186.50,797.50 C1188.06,801.28 1189.63,805.89 1190.80,810.30 C1192.01,814.85 1192.64,819.66 1193.60,824.40 C1194.57,829.23 1195.48,833.29 1196.60,839.00 C1198.19,847.08 1200.23,858.62 1202.10,868.30 C1203.94,877.82 1205.82,887.17 1207.70,896.60 C1209.58,906.03 1211.78,916.94 1213.40,924.90 C1214.58,930.72 1215.42,934.25 1216.50,940.00 C1217.92,947.59 1219.58,959.91 1221.00,966.50 C1221.86,970.49 1222.58,972.55 1223.50,976.00 C1224.61,980.13 1225.93,985.36 1227.20,989.60 C1228.33,993.37 1229.36,996.78 1230.70,1000.20 C1232.01,1003.54 1233.52,1006.97 1235.10,1009.90 C1236.51,1012.50 1237.97,1015.06 1239.60,1017.00 C1240.97,1018.63 1242.35,1019.79 1244.00,1021.00 C1245.78,1022.31 1247.66,1023.64 1250.00,1024.50 C1252.83,1025.54 1255.43,1025.87 1260.00,1026.30 C1269.67,1027.21 1290.40,1026.57 1305.60,1026.70" fill="none" stroke="#00CD00" stroke-width="3" stroke-linecap="round" stroke-linejoin="round"/>
<ellipse cx="1142.2" cy="1000.2" rx="10.1" ry="8.8" fill="#006400"/>
<ellipse cx="1162" cy="826.3" rx="10.1" ry="8.8" fill="#006400"/>
<ellipse cx="1182.8" cy="836.2" rx="10.1" ry="8.8" fill="#006400"/>
<ellipse cx="1202.3" cy="832.5" rx="10.1" ry="8.8" fill="#006400"/>
<ellipse cx="1223.6" cy="980.7" rx="10.1" ry="8.8" fill="#006400"/>
<ellipse cx="1244" cy="1026.7" rx="10.1" ry="8.8" fill="#006400"/>
<ellipse cx="1264.3" cy="1026.7" rx="10.1" ry="8.8" fill="#006400"/>
<ellipse cx="1284.7" cy="1026.7" rx="10.1" ry="8.8" fill="#006400"/>
<ellipse cx="1305.2" cy="1026.7" rx="10.1" ry="8.8" fill="#006400"/>
<ellipse cx="1124.9" cy="1009.5" rx="12.4" ry="11.1" fill="#fff" stroke="#006400" stroke-width="3.0"/>
<line x1="1106.5" y1="814.8" x2="1106.5" y2="1026.5" stroke="#000" stroke-width="3" stroke-linecap="round"/>
<line x1="1084" y1="1026.5" x2="1106.5" y2="1026.5" stroke="#000" stroke-width="3" stroke-linecap="round"/>
<line x1="1084" y1="920.7" x2="1106.5" y2="920.7" stroke="#000" stroke-width="3" stroke-linecap="round"/>
<line x1="1084" y1="814.8" x2="1106.5" y2="814.8" stroke="#000" stroke-width="3" stroke-linecap="round"/>
<text x="1069.5" y="1039.7568" text-anchor="end" font-size="33.4" font-weight="normal" >0.00</text>
<text x="1069.5" y="933.9568" text-anchor="end" font-size="33.4" font-weight="normal" >0.05</text>
<text x="1069.5" y="828.0568" text-anchor="end" font-size="33.4" font-weight="normal" >0.10</text>
<line x1="1131.2" y1="1039.2" x2="1295.3" y2="1039.2" stroke="#000" stroke-width="3" stroke-linecap="round"/>
<line x1="1131.2" y1="1039.2" x2="1131.2" y2="1058.6" stroke="#000" stroke-width="3" stroke-linecap="round"/>
<line x1="1172.2" y1="1039.2" x2="1172.2" y2="1058.6" stroke="#000" stroke-width="3" stroke-linecap="round"/>
<line x1="1213.3" y1="1039.2" x2="1213.3" y2="1058.6" stroke="#000" stroke-width="3" stroke-linecap="round"/>
<line x1="1254.3" y1="1039.2" x2="1254.3" y2="1058.6" stroke="#000" stroke-width="3" stroke-linecap="round"/>
<line x1="1295.3" y1="1039.2" x2="1295.3" y2="1058.6" stroke="#000" stroke-width="3" stroke-linecap="round"/>
<text x="1130.4" y="1091.5" text-anchor="middle" font-size="33.4" font-weight="normal" >0</text>
<text x="1212.5" y="1091.5" text-anchor="middle" font-size="33.4" font-weight="normal" >4</text>
<text x="1294.5" y="1091.5" text-anchor="middle" font-size="33.4" font-weight="normal" >8</text>
<text x="1199.9" y="1121.7" text-anchor="middle" font-size="33.4" font-weight="normal" >Log2 titer</text>
<line x1="1151.6" y1="697" x2="1234.4" y2="697" stroke="#000" stroke-width="3" stroke-linecap="round"/>
<line x1="1151.6" y1="697" x2="1151.6" y2="677.2" stroke="#000" stroke-width="3" stroke-linecap="round"/>
<line x1="1234.4" y1="697" x2="1234.4" y2="677.2" stroke="#000" stroke-width="3" stroke-linecap="round"/>
<text x="1149.5" y="667.3" text-anchor="middle" font-size="33.4" font-weight="normal" >10</text>
<text x="1232.9" y="662.3" text-anchor="middle" font-size="33.4" font-weight="normal" >160</text>
<text x="1197.8" y="629.8" text-anchor="middle" font-size="33.4" font-weight="normal" >Linear titer</text>
<text transform="translate(996.1,872.6) rotate(-90)" text-anchor="middle" font-size="33.4" >Pro<tspan dx="6.6">b. DHF</tspan></text>
</svg>
</body></html>
